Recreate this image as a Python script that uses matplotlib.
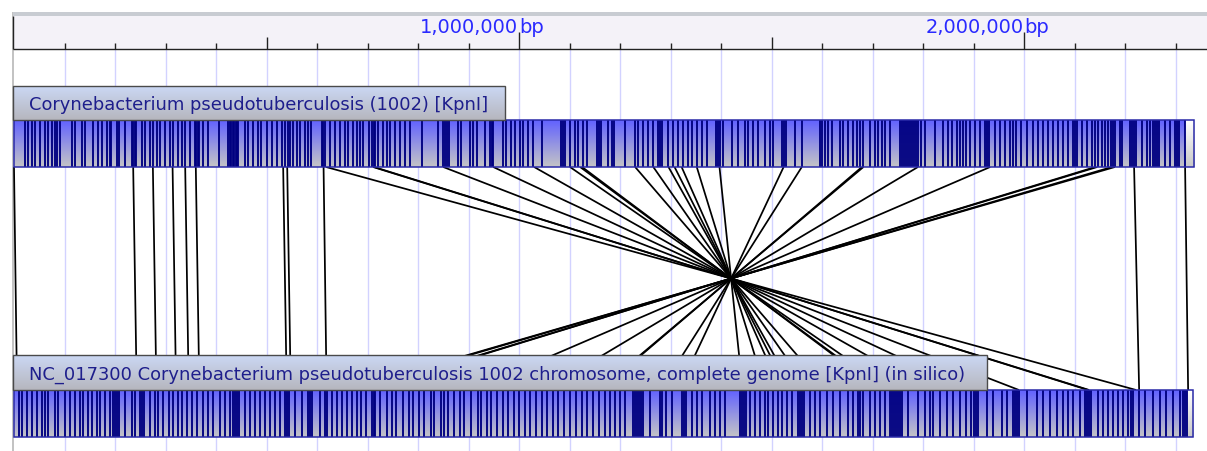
import numpy as np
import matplotlib.pyplot as plt
from matplotlib.patches import Rectangle
from matplotlib.colors import to_rgb

# -----------------------------------------------------------------------------
# map data (positions in kb)

top_name = 'Corynebacterium pseudotuberculosis (1002) [KpnI]'
bottom_name = ('NC_017300 Corynebacterium pseudotuberculosis 1002 chromosome, '
               'complete genome [KpnI] (in silico)')

top_length = 2337
bottom_length = 2335
top_unaligned = 2319      # last fragment not aligned
bottom_unaligned = 2322

top_cuts = [22, 28, 35, 42, 51, 61, 68, 75, 81, 85, 91, 114, 121, 134, 141, 157,
            167, 174, 184, 190, 193, 203, 207, 220, 233, 236, 239, 242, 253, 259,
            269, 276, 283, 289, 299, 309, 315, 325, 332, 339, 348, 358, 361, 364,
            367, 375, 385, 405, 424, 427, 430, 433, 436, 439, 442, 444, 457, 464,
            474, 484, 490, 500, 510, 520, 530, 537, 543, 546, 553, 560, 566, 576,
            583, 589, 609, 612, 615, 626, 636, 645, 655, 662, 672, 679, 685, 692,
            702, 708, 712, 715, 721, 731, 738, 744, 754, 764, 774, 784, 808, 840,
            850, 854, 858, 862, 880, 886, 903, 909, 916, 933, 942, 946, 949, 969,
            975, 985, 992, 1002, 1008, 1018, 1028, 1045, 1084, 1088, 1091, 1101,
            1111, 1117, 1127, 1134, 1154, 1158, 1162, 1177, 1184, 1188, 1210,
            1230, 1236, 1246, 1256, 1266, 1276, 1280, 1284, 1296, 1305, 1315,
            1325, 1335, 1342, 1352, 1362, 1372, 1391, 1395, 1399, 1403, 1421,
            1434, 1447, 1454, 1464, 1474, 1487, 1497, 1503, 1520, 1524, 1528,
            1546, 1560, 1596, 1600, 1605, 1612, 1619, 1635, 1642, 1652, 1662,
            1669, 1675, 1682, 1695, 1705, 1711, 1718, 1725, 1734, 1754, 1758,
            1762, 1766, 1770, 1774, 1778, 1782, 1786, 1790, 1797, 1804, 1824,
            1840, 1850, 1857, 1867, 1873, 1880, 1886, 1893, 1903, 1913, 1923,
            1927, 1931, 1942, 1952, 1962, 1972, 1979, 1985, 1995, 2005, 2018,
            2028, 2038, 2048, 2058, 2068, 2078, 2088, 2097, 2101, 2104, 2114,
            2124, 2134, 2140, 2147, 2154, 2160, 2167, 2173, 2177, 2180, 2190,
            2194, 2210, 2214, 2218, 2222, 2233, 2243, 2249, 2256, 2260, 2264,
            2268, 2279, 2289, 2299, 2303, 2307, 2319]

bottom_cuts = [9, 15, 25, 35, 45, 55, 61, 68, 81, 88, 101, 111, 121, 131, 137,
               147, 154, 164, 170, 180, 190, 197, 200, 204, 207, 220, 233, 240,
               249, 253, 257, 269, 279, 286, 296, 306, 315, 325, 332, 342, 352,
               362, 375, 385, 395, 408, 418, 428, 434, 438, 442, 446, 457, 467,
               477, 487, 497, 507, 517, 527, 537, 541, 545, 556, 570, 583, 587,
               591, 606, 616, 620, 629, 639, 649, 659, 669, 679, 688, 698, 708,
               712, 715, 725, 738, 748, 757, 770, 782, 790, 802, 812, 825, 832,
               845, 852, 860, 872, 884, 892, 905, 918, 925, 936, 945, 956, 968,
               978, 990, 1000, 1012, 1022, 1034, 1045, 1056, 1068, 1078, 1090,
               1100, 1112, 1124, 1134, 1146, 1158, 1170, 1180, 1190, 1200, 1210,
               1226, 1230, 1234, 1238, 1242, 1246, 1259, 1279, 1284, 1292, 1302,
               1322, 1326, 1331, 1342, 1352, 1362, 1378, 1388, 1398, 1408, 1437,
               1441, 1445, 1449, 1457, 1467, 1477, 1487, 1494, 1503, 1513, 1520,
               1530, 1540, 1553, 1557, 1561, 1565, 1576, 1586, 1596, 1609, 1622,
               1635, 1652, 1662, 1672, 1676, 1681, 1695, 1705, 1715, 1725, 1734,
               1738, 1742, 1746, 1750, 1754, 1758, 1771, 1791, 1804, 1814, 1820,
               1833, 1847, 1860, 1873, 1886, 1896, 1900, 1904, 1908, 1926, 1939,
               1956, 1966, 1979, 1983, 1987, 1991, 2005, 2025, 2038, 2051, 2065,
               2078, 2088, 2097, 2111, 2121, 2125, 2129, 2133, 2147, 2157, 2167,
               2177, 2187, 2196, 2206, 2211, 2216, 2228, 2239, 2256, 2269, 2282,
               2295, 2309, 2315, 2319, 2322]

# aligned fragment boundaries: top map -> bottom map
match_top = [0, 236, 275, 314, 339, 360, 533, 541, 613,
             618, 711, 713, 850, 949, 1030, 1101, 1121, 1125, 1230, 1266, 1296,
             1308, 1322, 1352, 1397, 1524, 1560, 1679, 1682, 1790, 1933, 2141,
             2145, 2174, 2180,
             2218, 2319]
match_bottom = [6, 243, 282, 321, 346, 367, 540, 548, 619,
                2222, 2129, 2127, 1990, 1891, 1810, 1739, 1719, 1715, 1610, 1574,
                1544, 1532, 1518, 1488, 1443, 1316, 1280, 1161, 1158, 1050, 907,
                699, 695, 666, 660,
                2228, 2325]

ruler_labels = {1000: '1,000,000', 2000: '2,000,000'}

# -----------------------------------------------------------------------------
# layout (pixel rows, inverted y axis)

W, H = 1207, 452
KB_PX = 0.505
X0 = 14


def gradient(ax, x0, x1, y0, y1, c_top, c_bot, z):
    """ Vertical colour gradient filling a box """
    t = np.linspace(0, 1, 64)[:, None, None]
    rgb = (1 - t) * np.array(to_rgb(c_top)) + t * np.array(to_rgb(c_bot))
    ax.imshow(rgb, extent=(x0, x1, y1, y0), aspect='auto', zorder=z,
              interpolation='bilinear')


def draw_map(ax, cuts, length, unaligned, y0, y1):
    gradient(ax, 0, unaligned, y0, y1, '#6262ff', '#c4c4c6', 3)
    gradient(ax, unaligned, length, y0, y1, '#ffffff', '#c8c8c8', 3)
    ax.vlines(cuts, y0, y1, color='#000080', lw=1.35, zorder=4)
    ax.add_patch(Rectangle((0, y0), length, y1 - y0, fill=False,
                           edgecolor='#2a2aa8', lw=1.1, zorder=5))


def draw_label(ax, text, x1, y0, y1):
    left = (13 - X0) / KB_PX
    gradient(ax, left, x1, y0, y1, '#cbd8f4', '#b6b6be', 6)
    ax.add_patch(Rectangle((left, y0), x1 - left, y1 - y0, fill=False,
                           edgecolor='#4a4a4a', lw=1.0, zorder=7))
    ax.text(left + 16 / KB_PX, (y0 + y1) / 2 + 1, text, color='#1e1e8c',
            fontsize=12.9, va='center', ha='left', zorder=8)


fig = plt.figure(figsize=(W / 100, H / 100), dpi=100)
ax = fig.add_axes([0, 0, 1, 1])
ax.axis('off')

xmin = -X0 / KB_PX
xmax = (W - X0) / KB_PX
left = (13 - X0) / KB_PX

# grid
grid = np.arange(100, 2400, 100)
ax.vlines(grid, 50, H, color='#d2d2ff', lw=1.0, zorder=1)
ax.vlines(left, 13, H, color='#b8b8b8', lw=1.2, zorder=1)

# ruler
ax.add_patch(Rectangle((left, 17), xmax - left, 33, facecolor='#f4f2f8',
                       edgecolor='none', zorder=2))
ax.add_patch(Rectangle((left, 13), xmax - left, 4, facecolor='#c8ccd2',
                       edgecolor='none', zorder=2))
ax.hlines(50, left, xmax, color='#222222', lw=1.0, zorder=3)
ax.vlines(left + 0.5, 17, 50, color='#222222', lw=1.0, zorder=3)
for kb in grid:
    if kb in ruler_labels:
        top = 33
    elif kb % 500 == 0:
        top = 38
    else:
        top = 44
    ax.vlines(kb, top, 50, color='#222222', lw=1.0, zorder=3)
for kb, lab in ruler_labels.items():
    ax.text(kb - 1, 33, lab, color='#2a2aff', fontsize=14, ha='right',
            va='baseline', zorder=4)
    ax.text(kb + 1, 33, 'bp', color='#2a2aff', fontsize=14, ha='left',
            va='baseline', zorder=4)

# maps
draw_map(ax, top_cuts, top_length, top_unaligned, 121, 168)
draw_map(ax, bottom_cuts, bottom_length, bottom_unaligned, 391, 438)

# alignment lines
for t, b in zip(match_top, match_bottom):
    ax.plot([t, b], [168, 391], color='black', lw=1.25, zorder=2,
            solid_capstyle='butt')

draw_label(ax, top_name, (505 - X0) / KB_PX, 87, 121)
draw_label(ax, bottom_name, (987 - X0) / KB_PX, 356, 391)

ax.set_xlim(xmin, xmax)
ax.set_ylim(H, 0)

plt.savefig('out.png', dpi=100)
